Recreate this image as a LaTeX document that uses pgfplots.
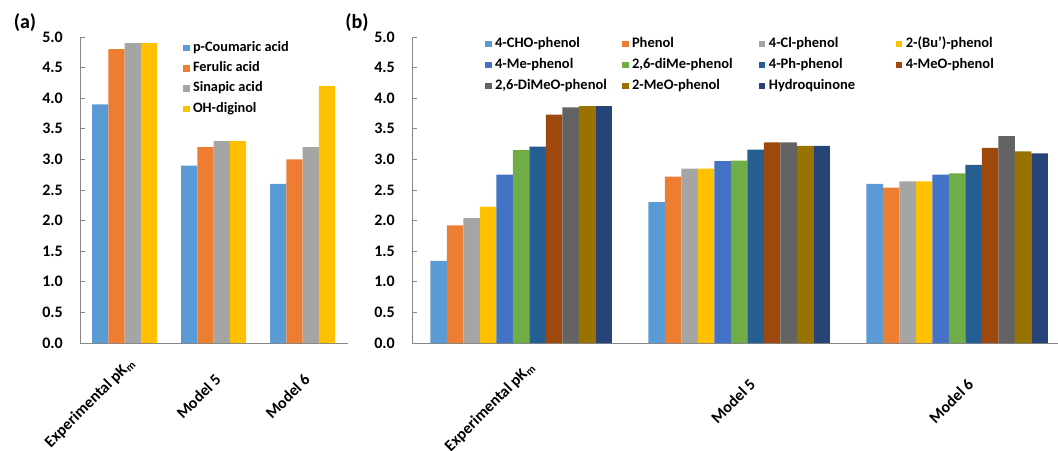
\documentclass[border=0pt]{standalone}
\usepackage{fontspec}
\setmainfont{Carlito}
\usepackage{pgfplots}
\pgfplotsset{compat=1.18}
\definecolor{c1}{HTML}{5B9BD5}
\definecolor{c2}{HTML}{ED7D31}
\definecolor{c3}{HTML}{A5A5A5}
\definecolor{c4}{HTML}{FFC000}
\definecolor{c5}{HTML}{4472C4}
\definecolor{c6}{HTML}{70AD47}
\definecolor{c7}{HTML}{255E91}
\definecolor{c8}{HTML}{9E480E}
\definecolor{c9}{HTML}{636363}
\definecolor{c10}{HTML}{997300}
\definecolor{c11}{HTML}{264478}
\definecolor{axgray}{HTML}{868686}
% zero-size label box: anchor east = end of baseline; #1 raise, #2 forward shift
\newcommand{\zb}[3]{\raisebox{#1}[0pt][0pt]{#3\hspace*{-#2}}}
\pgfplotsset{
  sqleg/.style={legend image code/.code={\fill[##1] (0pt,-3.2pt) rectangle (6.4pt,3.2pt);}},
  common/.style={
    scale only axis, ymin=0, ymax=5,
    ytick={0,0.5,1,1.5,2,2.5,3,3.5,4,4.5,5},
    axis x line*=bottom, axis y line*=left,
    axis line style={axgray, line width=0.9pt, -},
    tick style={axgray, line width=0.8pt},
    major tick length=5pt, tick align=inside,
    xtick style={draw=none},
    /pgf/number format/assume math mode=true,
    /pgf/number format/fixed, /pgf/number format/fixed zerofill, /pgf/number format/precision=1,
    yticklabel style={font=\bfseries\fontsize{16}{19}\selectfont, anchor=east, inner sep=0pt, xshift=-17pt},
    xtick={0,1,2},
    ybar=0pt,
  }
}
\begin{document}
\begin{tikzpicture}
\useasboundingbox (0,0) rectangle (1058pt,450pt);
\begin{axis}[common, at={(80pt,107pt)}, anchor=south west,
  width=268pt, height=306pt, xmin=-0.5, xmax=2.51, bar width=16.25pt,
  xticklabels={\zb{10.6pt}{13.4pt}{Experimental pK\textsubscript{m}}, \zb{0pt}{0pt}{Model 5}, \zb{0pt}{0pt}{Model 6}},
  xticklabel style={font=\bfseries\fontsize{16}{19}\selectfont, anchor=east, inner sep=0pt, xshift=8.5pt, yshift=-33pt, rotate=45},
  legend style={at={(0.384,0.99)}, anchor=north west, draw=none, fill=none, inner sep=0pt,
    font=\bfseries\fontsize{14.3}{17}\selectfont, row sep=4.8pt,
    nodes={text height=10pt, text depth=3.5pt, inner sep=1pt},
    /tikz/every odd column/.append style={column sep=2.5pt}},
  legend cell align=left]
\addplot[fill=c1, draw=none, sqleg] coordinates {(0,3.9) (1,2.9) (2,2.6)};
\addplot[fill=c2, draw=none, sqleg] coordinates {(0,4.8) (1,3.2) (2,3.0)};
\addplot[fill=c3, draw=none, sqleg] coordinates {(0,4.9) (1,3.3) (2,3.2)};
\addplot[fill=c4, draw=none, sqleg] coordinates {(0,4.9) (1,3.3) (2,4.2)};
\legend{p-Coumaric acid, Ferulic acid, Sinapic acid, OH-diginol}
\end{axis}
\begin{axis}[common, at={(412pt,107pt)}, anchor=south west,
  width=646pt, height=306pt, xmin=-0.5, xmax=2.463, bar width=16.5pt,
  xticklabels={\zb{14.8pt}{9.9pt}{Experimental pK\textsubscript{m}}, \zb{0pt}{0pt}{Model 5}, \zb{0pt}{0pt}{Model 6}},
  xticklabel style={font=\bfseries\fontsize{16}{19}\selectfont, anchor=east, inner sep=0pt, xshift=17.5pt, yshift=-37.5pt, rotate=45},
  legend columns=4,
  legend style={at={(0.113,1.003)}, anchor=north west, draw=none, fill=none, inner sep=0pt,
    font=\bfseries\fontsize{14.5}{17}\selectfont, row sep=5.5pt,
    nodes={text height=10pt, text depth=3.5pt, inner sep=1pt, text width=126pt, align=left},
    /tikz/every odd column/.append style={column sep=2.5pt}},
  legend cell align=left]
\addplot[fill=c1, draw=none, sqleg] coordinates {(0,1.34) (1,2.30) (2,2.60)};
\addplot[fill=c2, draw=none, sqleg] coordinates {(0,1.92) (1,2.72) (2,2.54)};
\addplot[fill=c3, draw=none, sqleg] coordinates {(0,2.04) (1,2.85) (2,2.64)};
\addplot[fill=c4, draw=none, sqleg] coordinates {(0,2.23) (1,2.85) (2,2.64)};
\addplot[fill=c5, draw=none, sqleg] coordinates {(0,2.75) (1,2.97) (2,2.75)};
\addplot[fill=c6, draw=none, sqleg] coordinates {(0,3.15) (1,2.98) (2,2.77)};
\addplot[fill=c7, draw=none, sqleg] coordinates {(0,3.21) (1,3.16) (2,2.91)};
\addplot[fill=c8, draw=none, sqleg] coordinates {(0,3.73) (1,3.28) (2,3.19)};
\addplot[fill=c9, draw=none, sqleg] coordinates {(0,3.85) (1,3.28) (2,3.38)};
\addplot[fill=c10, draw=none, sqleg] coordinates {(0,3.87) (1,3.22) (2,3.13)};
\addplot[fill=c11, draw=none, sqleg] coordinates {(0,3.87) (1,3.22) (2,3.10)};
\legend{4-CHO-phenol, Phenol, 4-Cl-phenol, 2-(Bu')-phenol, 4-Me-phenol, {2,6-diMe-phenol}, 4-Ph-phenol, 4-MeO-phenol, {2,6-DiMeO-phenol}, 2-MeO-phenol, Hydroquinone}
\end{axis}
\node[font=\bfseries\fontsize{20}{24}\selectfont, inner sep=0pt] at (25pt,427pt) {(a)};
\node[font=\bfseries\fontsize{20}{24}\selectfont, inner sep=0pt] at (357pt,427pt) {(b)};
\end{tikzpicture}
\end{document}
